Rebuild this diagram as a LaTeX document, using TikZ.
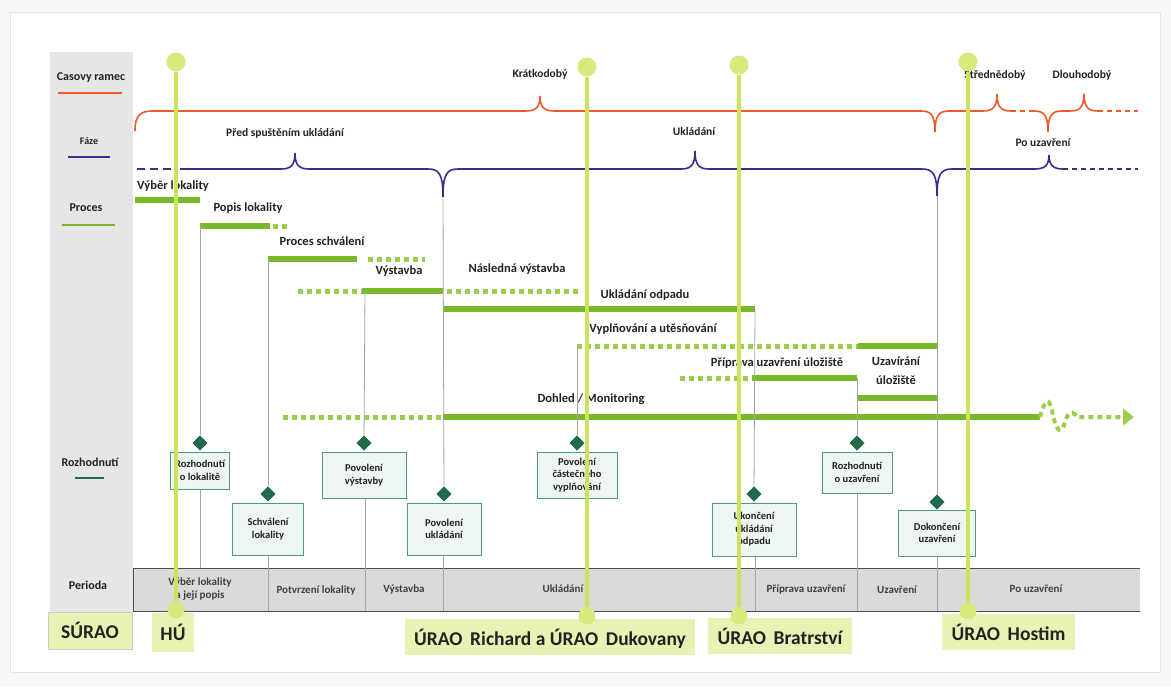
\documentclass[tikz,border=0pt]{standalone}
\usepackage{fontspec}
\setmainfont{Carlito}
\usetikzlibrary{shapes.geometric,arrows.meta}

\definecolor{frameorange}{HTML}{F05A28}
\definecolor{phasepurple}{HTML}{3D2B8E}
\definecolor{procgreen}{HTML}{78B82A}
\definecolor{dashgreen}{HTML}{9ACD4A}
\definecolor{decgreen}{HTML}{1F6B4A}
\definecolor{decframe}{HTML}{4C9A80}
\definecolor{decfill}{HTML}{EEF6F1}
\definecolor{polelime}{HTML}{CFE35A}
\definecolor{polehead}{HTML}{D8EA7E}
\definecolor{labellime}{HTML}{E7F2B4}
\definecolor{columngray}{HTML}{E6E6E6}
\definecolor{bandgray}{HTML}{DADADA}
\definecolor{inkdark}{HTML}{222222}

\tikzset{
  frameline/.style={frameorange, line width=1.6pt},
  phaseline/.style={phasepurple, line width=1.6pt},
  procbar/.style={procgreen, line width=6pt},
  plannedbar/.style={dashgreen, line width=5pt, dash pattern=on 5pt off 4pt},
  declink/.style={gray!70, line width=0.8pt},
  decbox/.style={draw=decframe, fill=decfill, line width=1pt, align=center,
    inner sep=1pt, text=inkdark, font=\fontsize{10.5}{12.5}\selectfont\bfseries},
  decmark/.style={diamond, fill=decgreen, minimum size=15pt, inner sep=0pt},
  sidelabel/.style={text=inkdark, font=\fontsize{12}{14}\selectfont\bfseries},
  proclabel/.style={text=inkdark, align=center, font=\fontsize{12.5}{14}\selectfont\bfseries},
  phaselabel/.style={text=inkdark, font=\fontsize{11.5}{13}\selectfont\bfseries},
  perlabel/.style={text=black!75, align=center, font=\fontsize{11}{12.5}\selectfont\bfseries},
  sitelabel/.style={fill=labellime, text=inkdark, inner sep=0pt, font=\fontsize{19.5}{22}\selectfont\bfseries},
  pole/.style={polelime, line width=3.5pt},
  polehead/.style={circle, fill=polehead, minimum size=19pt, inner sep=0pt},
  polefoot/.style={circle, fill=polehead, minimum size=17pt, inner sep=0pt}
}

\begin{document}
\begin{tikzpicture}[x=1pt,y=-1pt]
\useasboundingbox (0,0) rectangle (1171,686);

% Background and frame
\fill[gray!6] (0,0) rectangle (1171,686);
\fill[white] (10,12) rectangle (1160,672);
\draw[gray!20, line width=1pt] (10,12) rectangle (1160,672);

% Legend column
\fill[columngray] (50,52) rectangle (133,612);
\node[sidelabel] (lgFrame) at (91,78) {Casovy ramec};
\draw[frameline] (58,93) -- (122,93);
\node[sidelabel, font=\fontsize{10}{12}\selectfont\bfseries] (lgPhase) at (89,141) {Fáze};
\draw[phaseline] (68,157) -- (110,157);
\node[sidelabel] (lgProc) at (86,208) {Proces};
\draw[procgreen, line width=1.6pt] (62,225) -- (115,225);
\node[sidelabel] (lgDec) at (90,462) {Rozhodnutí};
\draw[decgreen, line width=1.6pt] (75,478) -- (104,478);
\node[sidelabel] (lgPer) at (88,585) {Perioda};
\node[sitelabel, draw=gray!40, line width=0.8pt, minimum width=84pt, minimum height=37pt] (surao) at (90,630.5) {SÚRAO};

% Time frame
\draw[frameline] (135,131) .. controls (135,116) and (140,111) .. (152,111)
  -- (526,111) .. controls (536,111) and (540,107) .. (540,96) .. controls (540,107) and (544,111) .. (554,111)
  -- (921,111) .. controls (931,111) and (935,115) .. (935,132) .. controls (935,115) and (939,111) .. (949,111)
  -- (983,111) .. controls (993,111) and (997,107) .. (997,94) .. controls (997,107) and (1001,111) .. (1011,111);
\draw[frameline, dash pattern=on 5pt off 4pt] (1011,111) -- (1034,111);
\draw[frameline] (1034,111) .. controls (1044,111) and (1048,115) .. (1048,132) .. controls (1048,115) and (1052,111) .. (1062,111)
  -- (1070,111) .. controls (1080,111) and (1084,107) .. (1084,94) .. controls (1084,107) and (1088,111) .. (1098,111);
\draw[frameline, dash pattern=on 5pt off 4pt] (1098,111) -- (1138,111);
\node[phaselabel] (tfShort) at (540,74) {Krátkodobý};
\node[phaselabel] (tfMid) at (995,75) {Střednědobý};
\node[phaselabel] (tfLong) at (1082,75) {Dlouhodobý};

% Phases
\draw[phaseline, dash pattern=on 8pt off 5pt] (137,169) -- (176,169);
\draw[phaseline] (180,169) -- (281,169) .. controls (291,169) and (295,165) .. (295,153) .. controls (295,165) and (299,169) .. (309,169)
  -- (428,169) .. controls (439,169) and (443,174) .. (443,197) .. controls (443,174) and (447,169) .. (458,169)
  -- (681,169) .. controls (691,169) and (695,165) .. (695,151) .. controls (695,165) and (699,169) .. (709,169)
  -- (922,169) .. controls (933,169) and (937,174) .. (937,196) .. controls (937,174) and (941,169) .. (952,169)
  -- (1035,169) .. controls (1045,169) and (1049,165) .. (1049,155) .. controls (1049,165) and (1053,169) .. (1063,169);
\draw[phaseline, dash pattern=on 5pt off 4pt] (1063,169) -- (1138,169);
\coordinate (phStore) at (443,197);
\coordinate (phClose) at (937,196);
\node[phaselabel] (phPre) at (285,133) {Před spuštěním ukládání};
\node[phaselabel] (phOps) at (694,132) {Ukládání};
\node[phaselabel] (phPost) at (1043,143) {Po uzavření};

% Processes
\draw[procbar] (135,200) -- (200,200);
\node[proclabel] (prSelect) at (173,186) {Výběr lokality};
\draw[procbar] (200,226) coordinate (prDescS) -- (270,226);
\draw[plannedbar] (273,226) -- (288,226);
\node[proclabel] (prDesc) at (248,208) {Popis lokality};
\draw[procbar] (268,259) coordinate (prApprS) -- (357,259);
\draw[plannedbar] (368,259) -- (425,259);
\node[proclabel] (prAppr) at (322,241) {Proces schválení};
\draw[plannedbar] (298,291) -- (362,291);
\draw[procbar] (362,291) -- (443,291);
\coordinate (prBuildS) at (365,291);
\draw[plannedbar] (447,291) -- (578,291);
\node[proclabel] (prBuild) at (399,271) {Výstavba};
\node[proclabel] (prBuildNext) at (517,269) {Následná výstavba};
\draw[procbar] (443,309) -- (755,309) coordinate (prWasteE);
\node[proclabel] (prWaste) at (645,295) {Ukládání odpadu};
\draw[plannedbar] (577,346) coordinate (prFillS) -- (858,346);
\draw[procbar] (858,346) -- (937,346);
\node[proclabel] (prFill) at (653,329) {Vyplňování a utěsňování};
\draw[plannedbar] (680,378) -- (752,378);
\draw[procbar] (752,378) -- (857,378) coordinate (prPrepE);
\node[proclabel] (prPrep) at (777,363) {Příprava uzavření úložiště};
\draw[procbar] (857,398) -- (937,398);
\node[proclabel, font=\fontsize{12.5}{19}\selectfont\bfseries] (prClose) at (896,371) {Uzavírání\\úložiště};
\draw[plannedbar] (283,417) -- (443,417);
\draw[procbar] (443,417) -- (1040,417);
\draw[plannedbar, line width=4pt, -{Triangle[length=11pt,width=16pt]}]
  (1040,417) .. controls (1045,399) and (1049,397) .. (1052,410)
  .. controls (1055,428) and (1060,436) .. (1064,425)
  .. controls (1067,414) and (1071,408) .. (1077,417) -- (1134,417);
\node[proclabel] (prMon) at (591,399) {Dohled / Monitoring};

% Period band
\fill[bandgray] (133,568) rectangle (1140,611);
\draw[gray!60!black, line width=1pt] (1140,568) -- (133,568) -- (133,611) -- (1140,611);
\coordinate (bandTopLok) at (200,568);
\foreach \x/\name in {268/Schv, 365/Vyst, 443/Ukl, 755/Konec, 857/Uzav, 937/Dokon}
  \coordinate (bandBot\name) at (\x,611);
\node[perlabel] (perSel) at (200,589) {Výběr lokality\\a její popis};
\node[perlabel] (perConf) at (316,590) {Potvrzení lokality};
\node[perlabel] (perBuild) at (404,589) {Výstavba};
\node[perlabel] (perStore) at (563,589) {Ukládání};
\node[perlabel] (perPrep) at (806,590) {Příprava uzavření};
\node[perlabel] (perClose) at (897,590) {Uzavření};
\node[perlabel] (perPost) at (1036,589) {Po uzavření};

% Decisions
\foreach \name/\x/\my/\by/\w/\h/\txt in {
    Lok/200/443/470.5/59/37/{Rozhodnutí\\o lokalitě},
    Schv/268/494/529/71/52/{Schválení\\lokality},
    Vyst/364/443/475/84/46/{Povolení\\výstavby},
    Ukl/444/494/529/74/52/{Povolení\\ukládání},
    Cast/577/443/475/80/46/{Povolení\\částečného\\vyplňování},
    Konec/754/494/529.5/84/53/{Ukončení\\ukládání\\odpadu},
    Uzav/857/443/472.5/70/41/{Rozhodnutí\\o uzavření},
    Dokon/937/502/533/77/46/{Dokončení\\uzavření}} {
  \node[decbox, minimum width=\w pt, minimum height=\h pt] (dec\name) at (\x,\by) {\txt};
  \node[decmark] (mark\name) at (\x,\my) {};
}
\draw[declink] (prDescS) -- (markLok);
\draw[declink] (decLok.south) -- (bandTopLok);
\draw[declink] (prApprS) -- (markSchv);
\draw[declink] (decSchv.south) -- (bandBotSchv);
\draw[declink] (prBuildS) -- (markVyst);
\draw[declink] (decVyst.south -| bandBotVyst) -- (bandBotVyst);
\draw[declink] (phStore) -- (markUkl);
\draw[declink] (decUkl.south -| bandBotUkl) -- (bandBotUkl);
\draw[declink] (prFillS) -- (markCast);
\draw[declink] (prWasteE) -- (markKonec);
\draw[declink] (decKonec.south -| bandBotKonec) -- (bandBotKonec);
\draw[declink] (prPrepE) -- (markUzav);
\draw[declink] (decUzav.south) -- (bandBotUzav);
\draw[declink] (phClose) -- (markDokon);
\draw[declink] (decDokon.south) -- (bandBotDokon);
% redraw diamonds on top of the links
\foreach \name/\x/\my in {Lok/200/443, Schv/268/494, Vyst/364/443, Ukl/444/494,
    Cast/577/443, Konec/754/494, Uzav/857/443, Dokon/937/502}
  \node[decmark] at (\x,\my) {};

% Sites
\node[sitelabel, minimum width=42pt, minimum height=39pt] (siteHU) at (173,632.5) {HÚ};
\node[sitelabel, minimum width=290pt, minimum height=36pt, text depth=0pt] (siteRD) at (550,637) {ÚRAO\, Richard a ÚRAO\, Dukovany};
\node[sitelabel, minimum width=144pt, minimum height=36pt] (siteBR) at (780,636) {ÚRAO\, Bratrství};
\node[sitelabel, minimum width=133pt, minimum height=36pt] (siteHO) at (1008.5,632) {ÚRAO\, Hostim};

\foreach \name/\x/\top/\bot in {HU/176/62/610, RD/587/67/616, BR/739/65/616, HO/968/62/611} {
  \node[polehead] (head\name) at (\x,\top) {};
  \node[polefoot] (foot\name) at (\x,\bot) {};
  \draw[pole] (head\name) -- (foot\name);
}
\end{tikzpicture}
\end{document}
